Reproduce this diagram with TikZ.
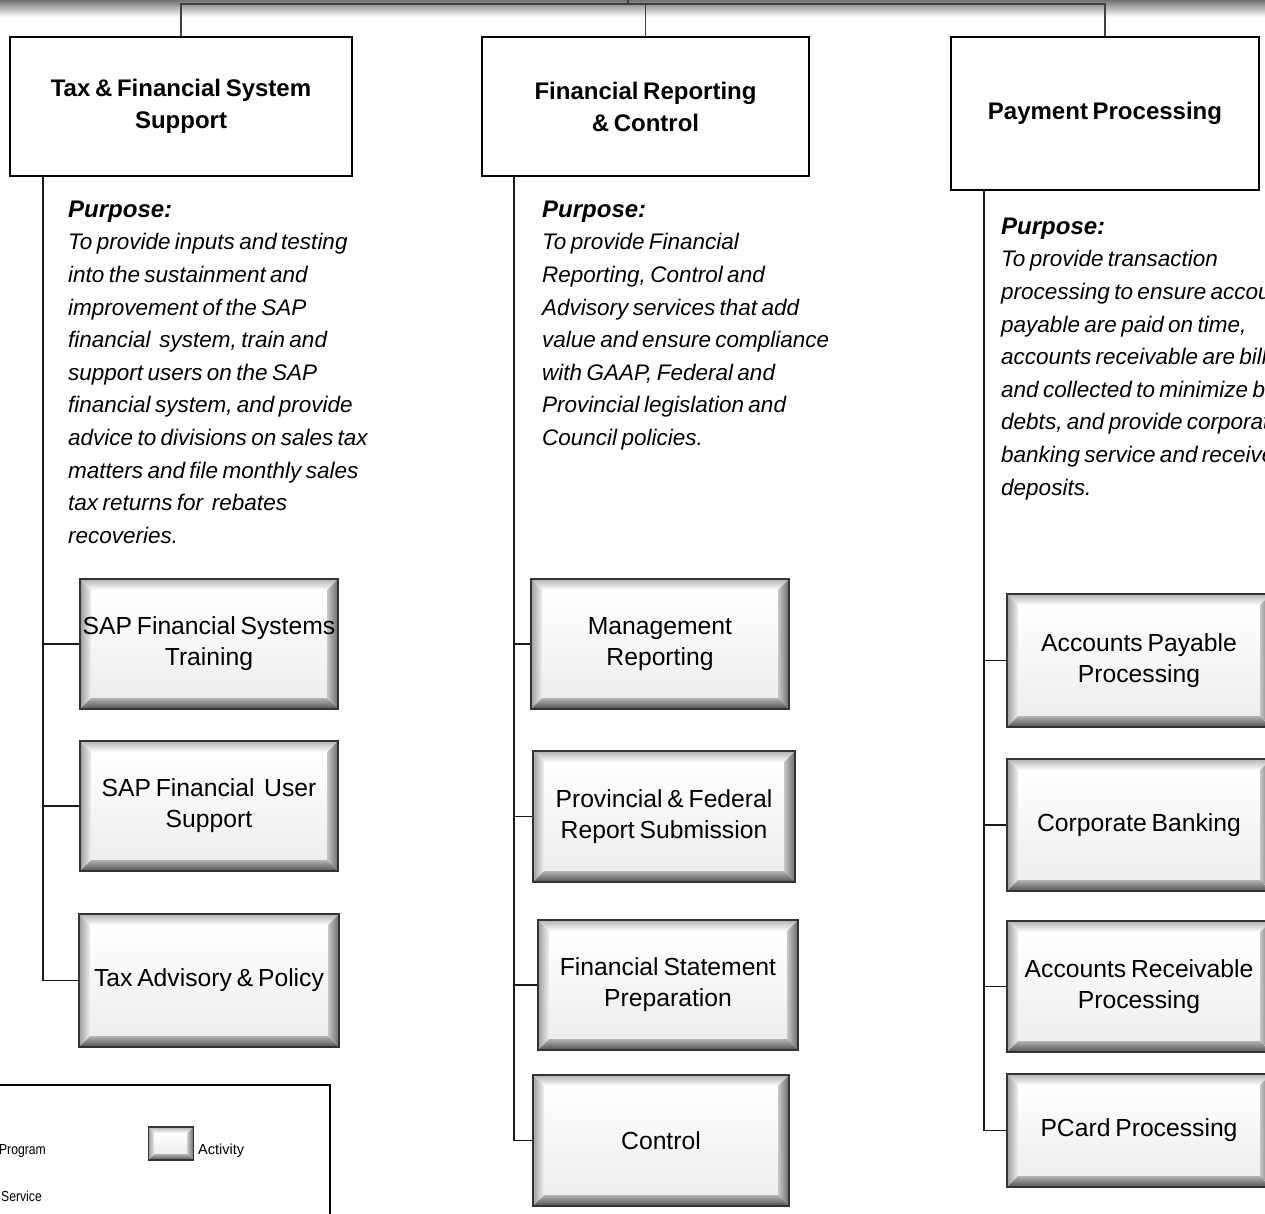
\documentclass[tikz,border=0pt]{standalone}
\usepackage{fontspec}
\setmainfont{Liberation Sans}[WordSpace=0.7]
\begin{document}
\begin{tikzpicture}[x=1pt,y=-1pt,
  bevelw/.store in=\bevw, bevelw=11pt,
  conn/.style={line width=1.6pt, draw=black!90},
  topconn/.style={line width=1.6pt, draw=black!75},
  program/.style={draw=black, line width=1.4pt, fill=white, inner sep=0pt, align=center,
     font=\fontsize{24pt}{32pt}\selectfont\bfseries},
  purpose/.style={anchor=north west, inner sep=0pt, align=left,
     font=\fontsize{22.5pt}{32.6pt}\selectfont\itshape},
  activity/.style={draw=black!80, line width=1.3pt, fill=white, inner sep=0pt, align=center,
     font=\fontsize{24.7pt}{31pt}\selectfont,
     path picture={
       \path (path picture bounding box.north west) coordinate (pNW)
             (path picture bounding box.north east) coordinate (pNE)
             (path picture bounding box.south west) coordinate (pSW)
             (path picture bounding box.south east) coordinate (pSE);
       \path ([shift={(\bevw,-\bevw)}]pNW) coordinate (iNW)
             ([shift={(-\bevw,-\bevw)}]pNE) coordinate (iNE)
             ([shift={(\bevw,\bevw)}]pSW) coordinate (iSW)
             ([shift={(-\bevw,\bevw)}]pSE) coordinate (iSE);
       \shade[top color=white, bottom color=black!7] (iNW) rectangle (iSE);
       \shade[top color=black!30, bottom color=white] (pNW)--(pNE)--(iNE)--(iNW)--cycle;
       \shade[left color=black!38, right color=black!6] (pNW)--(iNW)--(iSW)--(pSW)--cycle;
       \shade[left color=black!22, right color=black!58] (pNE)--(pSE)--(iSE)--(iNE)--cycle;
       \shade[top color=black!30, bottom color=black!68] (pSW)--(iSW)--(iSE)--(pSE)--cycle;
     }},
  legtext/.style={inner sep=0pt, font=\fontsize{14.5pt}{17pt}\selectfont}
]
\useasboundingbox (0,0) rectangle (1265,1214);
\clip (0,0) rectangle (1265,1214);
\fill[white] (0,0) rectangle (1265,1214);
\shade[top color=black!55, bottom color=white] (0,0) rectangle (1265,17);

% program boxes
\node[program, minimum width=342pt, minimum height=139pt] (t1) at (181,106.5) {Tax \& Financial System\\Support};
\node[program, minimum width=327pt, minimum height=139pt] (t2) at (645.5,106.5) {Financial Reporting\\\& Control};
\node[program, minimum width=308pt, minimum height=153pt] (t3) at (1105,113.5) {Payment Processing};

% top connectors
\coordinate (topend) at (628,-2);
\coordinate (bar) at (628,4);
\draw[topconn] (topend) -- (bar);
\draw[topconn] (t1.north) |- (bar);
\draw[topconn] (t3.north) |- (bar);
\draw[topconn] (t2.north) -- (t2.north |- bar);

% purpose texts
\node[purpose] (p1) at (68,200.5) {{\fontsize{24pt}{32.6pt}\selectfont\bfseries Purpose:}\\
To provide inputs and testing\\
into the sustainment and\\
improvement of the SAP\\
financial \ system, train and\\
support users on the SAP\\
financial system, and provide\\
advice to divisions on sales tax\\
matters and file monthly sales\\
tax returns for \ rebates\\
recoveries.};
\node[purpose] (p2) at (542,200.5) {{\fontsize{24pt}{32.6pt}\selectfont\bfseries Purpose:}\\
To provide Financial\\
Reporting, Control and\\
Advisory services that add\\
value and ensure compliance\\
with GAAP, Federal and\\
Provincial legislation and\\
Council policies.};
\node[purpose] (p3) at (1001,217.5) {{\fontsize{24pt}{32.6pt}\selectfont\bfseries Purpose:}\\
To provide transaction\\
processing to ensure accounts\\
payable are paid on time,\\
accounts receivable are billed\\
and collected to minimize bad\\
debts, and provide corporate\\
banking service and receive\\
deposits.};

% activities column 1
\node[activity, minimum width=258pt, minimum height=130pt] (a11) at (209,644) {SAP Financial Systems\\Training};
\node[activity, minimum width=258pt, minimum height=130pt] (a12) at (209,806) {SAP Financial \ User\\Support};
\node[activity, minimum width=260pt, minimum height=133pt] (a13) at (209,980.5) {Tax Advisory \& Policy};
% activities column 2
\node[activity, minimum width=258pt, minimum height=130pt] (a21) at (660,644) {Management\\Reporting};
\node[activity, minimum width=262pt, minimum height=131pt] (a22) at (664,816.5) {Provincial \& Federal\\Report Submission};
\node[activity, minimum width=260pt, minimum height=130pt] (a23) at (668,985) {Financial Statement\\Preparation};
\node[activity, minimum width=256pt, minimum height=131pt] (a24) at (661,1140.5) {Control};
% activities column 3
\node[activity, minimum width=264pt, minimum height=133pt] (a31) at (1139,660.5) {Accounts Payable\\Processing};
\node[activity, minimum width=264pt, minimum height=132pt] (a32) at (1139,825) {Corporate Banking};
\node[activity, minimum width=264pt, minimum height=131pt] (a33) at (1139,986.5) {Accounts Receivable\\Processing};
\node[activity, minimum width=264pt, minimum height=113pt] (a34) at (1139,1130.5) {PCard Processing};

% spines
\coordinate (s1) at (43,176);
\coordinate (s2) at (514,176);
\coordinate (s3) at (984,190);
\draw[conn] (s1) |- (a13.west);
\draw[conn] (s1 |- a11.west) -- (a11.west);
\draw[conn] (s1 |- a12.west) -- (a12.west);
\draw[conn] (s2) |- (a24.west);
\draw[conn] (s2 |- a21.west) -- (a21.west);
\draw[conn] (s2 |- a22.west) -- (a22.west);
\draw[conn] (s2 |- a23.west) -- (a23.west);
\draw[conn] (s3) |- (a34.west);
\draw[conn] (s3 |- a31.west) -- (a31.west);
\draw[conn] (s3 |- a32.west) -- (a32.west);
\draw[conn] (s3 |- a33.west) -- (a33.west);

% legend
\node[draw=black, line width=1.3pt, fill=none, minimum width=345pt, minimum height=150pt, inner sep=0pt] (leg) at (157.5,1160) {};
\node[activity, bevelw=6pt, minimum width=45pt, minimum height=33pt] (legact) at (171,1143.5) {};
\node[legtext, anchor=west] (legacttxt) at (198,1151) {Activity};
\node[legtext, anchor=east] (legprog) at (46,1151) {\scalebox{0.84}[1]{Program}};
\node[legtext, anchor=east] (legserv) at (42,1196) {\scalebox{0.84}[1]{Service}};
\end{tikzpicture}
\end{document}
